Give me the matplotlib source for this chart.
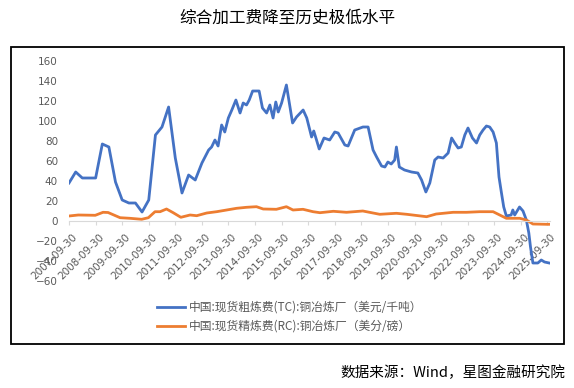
import matplotlib
matplotlib.use("Agg")
import matplotlib.pyplot as plt
import matplotlib.dates as mdates
import matplotlib.patches as mpatches
import matplotlib.transforms as mtransforms
import pandas as pd

plt.rcParams['font.family'] = ['Noto Sans CJK SC', 'DejaVu Sans']

title = "综合加工费降至历史极低水平"
source = "数据来源：Wind，星图金融研究院"
tc_label = "中国:现货粗炼费(TC):铜冶炼厂（美元/千吨）"
rc_label = "中国:现货精炼费(RC):铜冶炼厂（美分/磅）"

tc_dates = ["2007-09-30", "2007-12-31", "2008-03-31", "2008-09-30", "2008-12-31", "2009-03-31",
            "2009-06-30", "2009-09-30", "2009-12-31", "2010-03-31", "2010-06-30", "2010-09-30",
            "2010-12-31", "2011-03-31", "2011-06-30", "2011-09-30", "2011-12-31", "2012-03-31",
            "2012-06-30", "2012-09-30", "2012-12-31", "2013-02-10", "2013-03-28", "2013-05-10",
            "2013-06-28", "2013-08-10", "2013-09-28", "2013-11-15", "2014-01-10", "2014-03-08",
            "2014-04-20", "2014-06-05", "2014-07-12", "2014-08-28", "2014-11-25", "2015-01-10",
            "2015-03-08", "2015-04-22", "2015-06-05", "2015-07-12", "2015-08-15", "2015-09-30",
            "2015-12-05", "2016-02-28", "2016-04-22", "2016-07-22", "2016-09-10", "2016-11-15",
            "2016-12-15", "2017-01-22", "2017-02-28", "2017-05-05", "2017-07-22", "2017-09-30",
            "2017-11-15", "2018-02-15", "2018-04-01", "2018-07-01", "2018-10-22", "2019-01-01",
            "2019-03-10", "2019-04-28", "2019-07-05", "2019-08-20", "2019-09-30", "2019-11-15",
            "2020-01-01", "2020-01-25", "2020-03-05", "2020-05-15", "2020-08-20", "2020-11-15",
            "2021-01-05", "2021-03-05", "2021-04-28", "2021-07-05", "2021-08-20", "2021-10-28",
            "2022-01-05", "2022-02-22", "2022-04-05", "2022-05-22", "2022-07-05", "2022-08-22",
            "2022-10-05", "2022-12-05", "2023-01-30", "2023-03-15", "2023-04-30", "2023-06-15",
            "2023-07-30", "2023-09-15", "2023-10-30", "2023-12-05", "2024-01-08", "2024-02-08",
            "2024-03-15", "2024-05-20", "2024-06-12", "2024-07-08", "2024-09-12", "2024-10-30",
            "2024-12-15", "2025-01-18", "2025-02-10", "2025-03-15", "2025-05-22", "2025-07-08",
            "2025-08-22", "2025-10-25"]
tc_values = [38, 49, 43, 43, 77, 74,
             39, 21, 18, 18, 9, 21,
             86, 94, 114, 63, 28, 46,
             41, 58, 71, 74, 81, 75,
             96, 89, 103, 111, 121, 108,
             118, 116, 121, 130, 130, 113,
             108, 116, 103, 119, 109, 118,
             136, 98, 104, 111, 103, 84,
             90, 81, 72, 83, 81, 89,
             88, 76, 75, 91, 94, 94,
             71, 64, 55, 54, 59, 57,
             61, 74, 54, 51, 49, 48,
             41, 29, 38, 61, 64, 63,
             68, 83, 78, 73, 74, 86,
             93, 83, 78, 86, 91, 95,
             94, 89, 78, 44, 28, 14,
             5, 6, 11, 6, 14, 10,
             1, -12, -26, -42, -42, -39,
             -41, -42]

rc_dates = ["2007-09-30", "2008-02-05", "2008-09-25", "2009-01-10", "2009-03-20", "2009-09-01",
            "2010-01-15", "2010-06-25", "2010-09-25", "2010-12-25", "2011-03-05", "2011-06-01",
            "2011-09-01", "2011-12-15", "2012-04-20", "2012-07-20", "2012-12-05", "2013-04-20",
            "2013-09-05", "2014-01-20", "2014-06-05", "2014-10-20", "2015-01-20", "2015-07-20",
            "2015-12-05", "2016-03-05", "2016-07-20", "2016-12-05", "2017-03-10", "2017-09-10",
            "2018-03-10", "2018-10-20", "2019-06-10", "2020-01-25", "2020-06-15", "2021-03-15",
            "2021-07-25", "2022-03-15", "2022-09-15", "2023-03-15", "2023-09-15", "2023-12-15",
            "2024-03-15", "2024-09-15", "2024-12-15", "2025-03-15", "2025-09-15", "2025-10-25"]
rc_values = [5, 6, 5.7, 8.7, 8.5, 3.3,
             2.7, 1.7, 3.3, 9.3, 9.3, 12,
             8.3, 3.7, 6, 5.3, 8, 9.3,
             11, 12.7, 13.7, 14.3, 12, 11.7,
             14.3, 11, 11.7, 9.3, 8.3, 9.7,
             8.7, 10, 6.7, 7.7, 6.7, 4.3,
             7, 8.7, 8.7, 9.3, 9.3, 6,
             2.7, 2.7, 1, -3, -3.3, -3.3]

tick_dates = [f"{y}-09-30" for y in range(2007, 2026)]
y_ticks = list(range(-60, 161, 20))

fig = plt.figure(figsize=(5.74, 3.88), dpi=100)
fig.patch.set_facecolor("white")

# outer frame
frame = mpatches.Rectangle((11 / 574, 1 - 344 / 388), (564 - 11) / 574, (344 - 47) / 388,
                           transform=fig.transFigure, fill=False, edgecolor="black", linewidth=1.3)
fig.add_artist(frame)

ax = fig.add_axes([69 / 574, 1 - 281 / 388, (550 - 69) / 574, (281 - 61) / 388])
ax.plot(pd.to_datetime(tc_dates), tc_values, color="#4472C4", linewidth=2.0, label=tc_label,
        solid_joinstyle="round")
ax.plot(pd.to_datetime(rc_dates), rc_values, color="#ED7D31", linewidth=2.0, label=rc_label,
        solid_joinstyle="round")

ax.set_ylim(-60, 160)
ax.set_yticks(y_ticks)
ax.set_xlim(pd.Timestamp("2007-09-30"), pd.Timestamp("2025-11-05"))
ax.set_xticks(pd.to_datetime(tick_dates))
ax.xaxis.set_major_formatter(mdates.DateFormatter("%Y-%m-%d"))

for s in ["top", "right", "left"]:
    ax.spines[s].set_visible(False)
ax.spines["bottom"].set_position(("data", 0))
ax.spines["bottom"].set_color("#D9D9D9")
ax.spines["bottom"].set_linewidth(0.8)

ax.tick_params(axis="y", length=0, labelsize=7.5, labelcolor="#595959", pad=8)
ax.tick_params(axis="x", length=3, color="#D9D9D9", labelsize=7.5, labelcolor="#595959",
               pad=5, direction="out")
offset = mtransforms.ScaledTranslation(3 / 100, 0, fig.dpi_scale_trans)
for lab in ax.get_yticklabels():
    lab.set_family(["DejaVu Sans"])
for lab in ax.get_xticklabels():
    lab.set_rotation(45)
    lab.set_ha("right")
    lab.set_va("top")
    lab.set_rotation_mode("anchor")
    lab.set_family(["DejaVu Sans"])
    lab.set_transform(lab.get_transform() + offset)

fig.text(287 / 574, 1 - 18 / 388, title, ha="center", va="center", fontsize=12, color="black")
fig.text(565 / 574, 1 - 373 / 388, source, ha="right", va="center", fontsize=10.5, color="black")

leg = fig.legend(loc="upper left", bbox_to_anchor=(157 / 574, 1 - 301 / 388), frameon=False,
                 fontsize=8.5, handlelength=2.4, handletextpad=0.3, labelspacing=0.5,
                 borderpad=0, borderaxespad=0)
for t in leg.get_texts():
    t.set_color("#595959")

fig.savefig("out.png", dpi=100, facecolor="white")
